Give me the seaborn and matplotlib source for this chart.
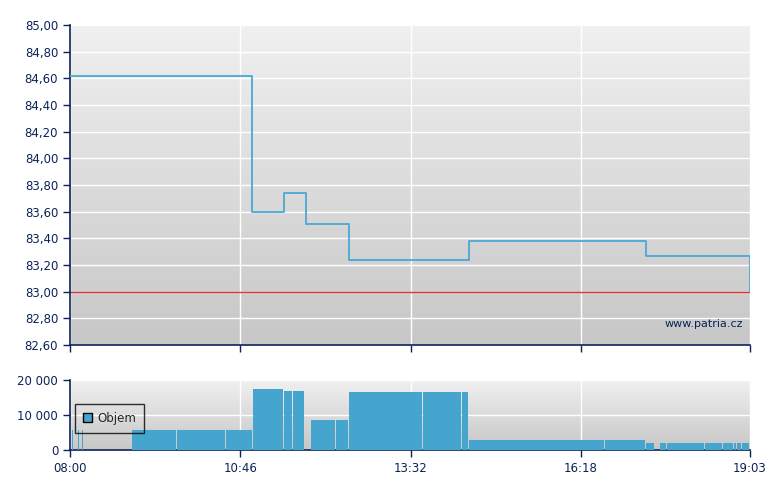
import matplotlib
matplotlib.use("Agg")
import matplotlib.pyplot as plt
import seaborn as sns
import numpy as np
import pandas as pd
from matplotlib.colors import LinearSegmentedColormap
from matplotlib.patches import Patch
from matplotlib.ticker import FuncFormatter

# price steps (time of change, price)
price_times = ["08:00", "10:57", "11:29", "11:50", "12:32", "14:29", "17:22", "19:03"]
price_values = [84.62, 83.60, 83.74, 83.51, 83.24, 83.38, 83.27, 83.00]
prev_close = 83.00

# volume blocks
vol_start = ["08:02", "08:08", "08:12", "09:00", "09:44", "10:32", "10:58", "11:29", "11:37",
             "11:55", "12:13", "12:19", "12:32", "13:44", "14:08", "14:22", "14:29", "16:42",
             "17:22", "17:35", "17:42", "18:19", "18:37", "18:47", "18:50", "18:55"]
vol_end = ["08:03", "08:09", "08:13", "09:44", "10:32", "10:58", "11:29", "11:37", "11:49",
           "12:13", "12:19", "12:32", "13:44", "14:08", "14:22", "14:29", "16:42", "17:22",
           "17:30", "17:42", "18:19", "18:37", "18:47", "18:50", "18:55", "19:03"]
vol_values = [5700, 5700, 5700, 5700, 5700, 5700, 17500, 17000, 17000,
              8600, 8600, 8600, 16600, 16600, 16600, 16600, 2900, 2900,
              2100, 2100, 2100, 2100, 2100, 2100, 2100, 2100]

tick_times = ["08:00", "10:46", "13:32", "16:18", "19:03"]
price_ticks = [82.6, 82.8, 83.0, 83.2, 83.4, 83.6, 83.8, 84.0, 84.2, 84.4, 84.6, 84.8, 85.0]
vol_ticks = [0, 10000, 20000]


def to_min(t):
    h, m = t.split(":")
    return (int(h) - 8) * 60 + int(m)


navy = "#0b2357"
line_col = "#4aa8d4"
bar_col = "#46a5cf"

sns.set_style("white")
plt.rcParams["font.family"] = ["DejaVu Sans"]
plt.rcParams["font.size"] = 8

fig = plt.figure(figsize=(7.8, 4.9), dpi=100)
ax1 = fig.add_axes([70 / 780, 1 - 345 / 490, 680 / 780, 320 / 490])
ax2 = fig.add_axes([70 / 780, 1 - 450 / 490, 680 / 780, 70 / 490])

grad = LinearSegmentedColormap.from_list("g", ["#c7c7c7", "#f0f0f0"])
for ax in (ax1, ax2):
    ax.imshow(np.linspace(0, 1, 256)[:, None], extent=[0, 1, 0, 1], transform=ax.transAxes,
              aspect="auto", cmap=grad, origin="lower", zorder=0)

df = pd.DataFrame({"t": [to_min(t) for t in price_times], "price": price_values})
sns.lineplot(data=df, x="t", y="price", drawstyle="steps-post", color=line_col, lw=1.3,
             ax=ax1, zorder=3)
ax1.axhline(prev_close, color="#e03434", lw=1, zorder=2)

starts = np.array([to_min(t) for t in vol_start])
ends = np.array([to_min(t) for t in vol_end])
dur = ends - starts
widths = np.where(dur > 2, dur - 0.9, dur)
ax2.bar(starts, vol_values, width=widths, align="edge", color=bar_col, lw=0, zorder=3)

xt = [to_min(t) for t in tick_times]
for ax in (ax1, ax2):
    ax.set_xlim(0, to_min("19:03"))
    ax.set_xticks(xt)
    ax.grid(True, color="white", lw=1)
    ax.set_axisbelow(True)
    for s in ("top", "right"):
        ax.spines[s].set_visible(False)
    for s in ("left", "bottom"):
        ax.spines[s].set_color(navy)
        ax.spines[s].set_linewidth(1.2)
    ax.tick_params(direction="out", length=5, width=1, color=navy, labelcolor=navy,
                   labelsize=8.5, bottom=True, left=True)
    ax.set_xlabel("")
    ax.set_ylabel("")

ax1.set_ylim(82.6, 85.0)
ax1.set_yticks(price_ticks)
ax1.yaxis.set_major_formatter(FuncFormatter(lambda v, p: f"{v:.2f}".replace(".", ",")))
ax1.set_xticklabels([])

ax2.set_ylim(0, 20000)
ax2.set_yticks(vol_ticks)
ax2.yaxis.set_major_formatter(FuncFormatter(lambda v, p: f"{int(v):,}".replace(",", " ")))
ax2.set_xticklabels(tick_times)

ax1.text(0.99, 0.065, "www.patria.cz", transform=ax1.transAxes, ha="right", va="center",
         color=navy, fontsize=8, zorder=4)

leg = ax2.legend(handles=[Patch(facecolor=bar_col, edgecolor="black", label="Objem")],
                 loc="lower left", bbox_to_anchor=(0.007, 0.24), frameon=True, fancybox=False,
                 edgecolor="black", facecolor="none", framealpha=None, handlelength=0.8,
                 handleheight=0.8, handletextpad=0.4, borderpad=0.7, borderaxespad=0,
                 fontsize=8.5)
leg.get_frame().set_linewidth(1)
leg.set_zorder(5)

fig.savefig("out.png", dpi=100)
